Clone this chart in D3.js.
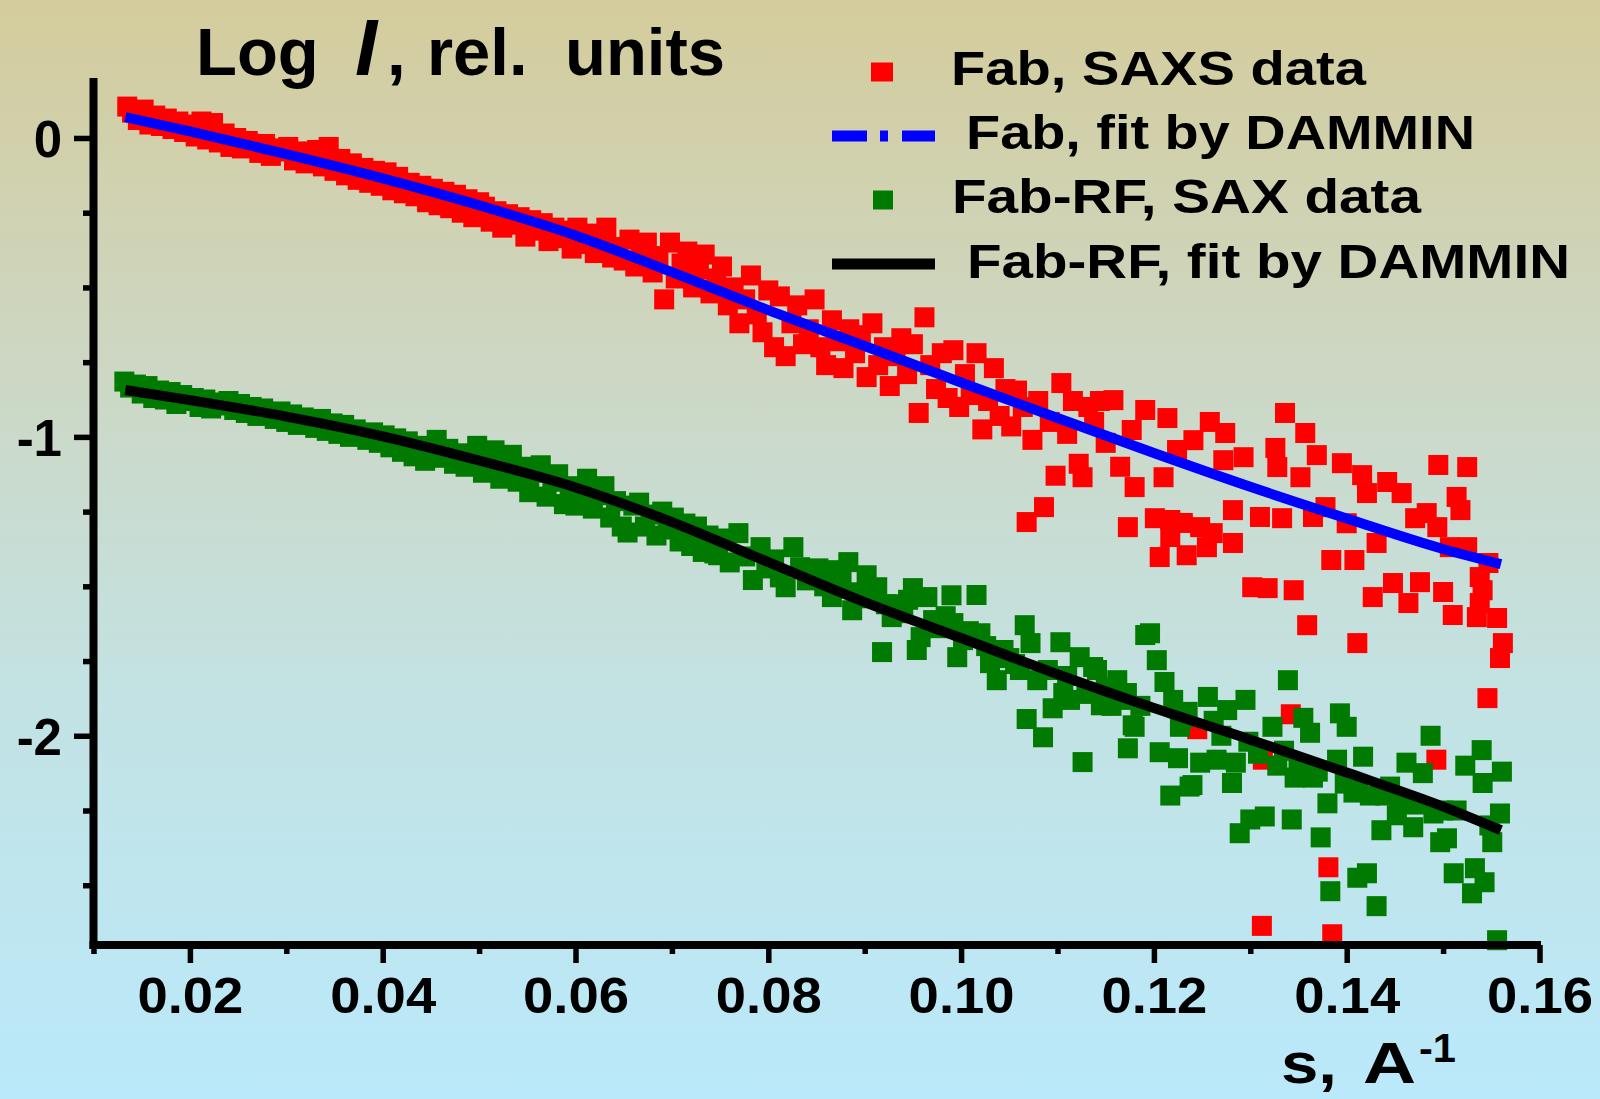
<!DOCTYPE html>
<html>
<head>
<meta charset="utf-8">
<script src="https://cdn.jsdelivr.net/npm/d3@7"></script>
<style>
  html, body { margin: 0; padding: 0; background: #ffffff; }
  svg { display: block; }
</style>
</head>
<body>
<script>
// ---- Data: log intensity vs scattering vector s (1/A) ----

// Fab, SAXS data: [s, log I]
const fabSaxs = [
  [0.0135,0.105],[0.0140,0.085],[0.0146,0.060],[0.0152,0.095],[0.0158,0.045],[0.0164,0.075],[0.0170,0.040],
  [0.0176,0.065],[0.0182,0.030],[0.0188,0.055],[0.0194,0.020],[0.0200,0.045],[0.0206,0.005],[0.0212,0.055],
  [0.0218,-0.005],[0.0224,0.050],[0.0230,-0.015],[0.0236,0.015],[0.0242,-0.030],[0.0248,0.000],[0.0254,-0.035],
  [0.0260,-0.010],[0.0266,-0.025],[0.0272,-0.050],[0.0278,-0.020],[0.0284,-0.060],[0.0290,-0.035],[0.0296,-0.045],
  [0.0302,-0.030],[0.0308,-0.075],[0.0314,-0.045],[0.0320,-0.085],[0.0326,-0.050],[0.0332,-0.040],[0.0338,-0.095],
  [0.0344,-0.030],[0.0350,-0.110],[0.0356,-0.070],[0.0362,-0.125],[0.0368,-0.085],[0.0374,-0.140],[0.0380,-0.100],
  [0.0386,-0.150],[0.0392,-0.110],[0.0398,-0.160],[0.0404,-0.115],[0.0410,-0.175],[0.0416,-0.130],[0.0422,-0.185],
  [0.0428,-0.150],[0.0434,-0.195],[0.0440,-0.160],[0.0446,-0.215],[0.0452,-0.170],[0.0458,-0.225],[0.0464,-0.180],
  [0.0470,-0.235],[0.0476,-0.190],[0.0482,-0.250],[0.0488,-0.205],[0.0494,-0.265],[0.0500,-0.215],[0.0506,-0.230],
  [0.0512,-0.280],[0.0518,-0.245],[0.0524,-0.300],[0.0530,-0.255],[0.0536,-0.290],[0.0542,-0.265],[0.0548,-0.330],
  [0.0554,-0.275],[0.0560,-0.310],[0.0566,-0.285],[0.0572,-0.345],[0.0578,-0.300],[0.0584,-0.335],[0.0590,-0.310],
  [0.0596,-0.370],[0.0602,-0.300],[0.0608,-0.355],[0.0614,-0.320],[0.0620,-0.385],[0.0626,-0.340],[0.0632,-0.300],
  [0.0638,-0.400],[0.0644,-0.365],[0.0650,-0.410],[0.0656,-0.340],[0.0662,-0.430],[0.0668,-0.380],[0.0674,-0.350],
  [0.0680,-0.450],[0.0686,-0.395],[0.0692,-0.540],[0.0698,-0.350],[0.0704,-0.470],[0.0710,-0.420],[0.0716,-0.380],
  [0.0722,-0.500],[0.0728,-0.440],[0.0734,-0.390],[0.0740,-0.520],[0.0746,-0.470],[0.0752,-0.430],[0.0758,-0.560],
  [0.0764,-0.500],[0.0770,-0.620],[0.0776,-0.540],[0.0782,-0.460],[0.0788,-0.590],[0.0794,-0.650],[0.0800,-0.510],
  [0.0806,-0.700],[0.0812,-0.530],[0.0818,-0.730],[0.0824,-0.620],[0.0830,-0.560],[0.0836,-0.690],[0.0842,-0.640],
  [0.0848,-0.540],[0.0854,-0.700],[0.0860,-0.760],[0.0866,-0.610],[0.0872,-0.680],[0.0878,-0.770],[0.0884,-0.640],
  [0.0890,-0.720],[0.0896,-0.660],[0.0902,-0.800],[0.0908,-0.620],[0.0914,-0.760],[0.0920,-0.700],[0.0926,-0.830],
  [0.0932,-0.730],[0.0938,-0.670],[0.0944,-0.790],[0.0950,-0.690],[0.0956,-0.920],[0.0962,-0.600],[0.0968,-0.760],
  [0.0974,-0.840],[0.0980,-0.720],[0.0986,-0.870],[0.0992,-0.710],[0.0998,-0.900],[0.1004,-0.790],[0.1010,-0.860],
  [0.1016,-0.720],[0.1022,-0.975],[0.1028,-0.880],[0.1034,-0.770],[0.1040,-0.930],[0.1046,-0.840],[0.1052,-0.965],
  [0.1058,-0.845],[0.1064,-0.900],[0.1068,-1.285],[0.1074,-1.010],[0.1080,-0.880],[0.1086,-1.235],[0.1092,-0.950],
  [0.1098,-1.130],[0.1104,-0.820],[0.1110,-0.990],[0.1116,-0.880],[0.1122,-1.090],[0.1126,-1.135],[0.1132,-0.900],
  [0.1138,-0.950],[0.1144,-0.880],[0.1150,-1.020],[0.1158,-0.877],[0.1165,-1.100],[0.1173,-1.302],[0.1177,-0.977],
  [0.1180,-1.168],[0.1191,-0.910],[0.1201,-1.272],[0.1206,-1.402],[0.1210,-1.135],[0.1214,-0.937],[0.1217,-1.278],
  [0.1217,-1.335],[0.1224,-1.044],[0.1230,-1.288],[0.1234,-1.396],[0.1241,-1.011],[0.1245,-1.978],[0.1248,-1.302],
  [0.1255,-1.369],[0.1258,-0.950],[0.1261,-1.322],[0.1272,-1.078],[0.1274,-0.987],[0.1282,-1.355],[0.1282,-1.245],
  [0.1293,-1.068],[0.1302,-1.503],[0.1310,-1.268],[0.1312,-2.636],[0.1313,-2.080],[0.1318,-1.506],[0.1326,-1.037],
  [0.1328,-1.101],[0.1333,-1.272],[0.1336,-0.920],[0.1342,-1.928],[0.1345,-1.513],[0.1352,-1.135],[0.1357,-0.987],
  [0.1359,-1.630],[0.1365,-1.268],[0.1369,-1.061],[0.1378,-1.235],[0.1381,-2.440],[0.1384,-1.412],[0.1385,-2.664],
  [0.1395,-1.088],[0.1400,-1.289],[0.1408,-1.412],[0.1411,-1.690],[0.1416,-1.128],[0.1421,-1.188],[0.1427,-1.536],
  [0.1431,-1.355],[0.1442,-1.151],[0.1448,-1.489],[0.1457,-1.188],[0.1464,-1.556],[0.1471,-1.272],[0.1476,-1.486],
  [0.1483,-1.255],[0.1493,-2.080],[0.1494,-1.302],[0.1495,-1.094],[0.1500,-1.519],[0.1507,-1.369],[0.1510,-1.596],
  [0.1514,-1.201],[0.1518,-1.245],[0.1525,-1.101],[0.1525,-1.369],[0.1535,-1.603],[0.1538,-1.469],[0.1538,-1.556],
  [0.1541,-1.513],[0.1546,-1.874],[0.1547,-1.422],[0.1556,-1.606],[0.1559,-1.740],[0.1562,-1.690]
];

// Fab-RF, SAX data: [s, log I]
const fabRfSax = [
  [0.0132,-0.815],[0.0138,-0.835],[0.0144,-0.825],[0.0150,-0.855],[0.0156,-0.830],[0.0162,-0.870],[0.0168,-0.845],
  [0.0174,-0.875],[0.0180,-0.850],[0.0186,-0.890],[0.0192,-0.860],[0.0198,-0.880],[0.0204,-0.870],[0.0210,-0.900],
  [0.0216,-0.875],[0.0222,-0.905],[0.0228,-0.885],[0.0234,-0.895],[0.0240,-0.880],[0.0246,-0.910],[0.0252,-0.890],
  [0.0258,-0.920],[0.0264,-0.900],[0.0270,-0.930],[0.0276,-0.905],[0.0282,-0.920],[0.0288,-0.940],[0.0294,-0.915],
  [0.0300,-0.950],[0.0306,-0.925],[0.0312,-0.960],[0.0318,-0.935],[0.0324,-0.945],[0.0330,-0.970],[0.0336,-0.940],
  [0.0342,-0.980],[0.0348,-0.955],[0.0354,-0.990],[0.0360,-0.960],[0.0366,-1.000],[0.0372,-0.975],[0.0378,-0.990],
  [0.0384,-1.010],[0.0390,-0.985],[0.0396,-1.020],[0.0402,-0.995],[0.0408,-1.035],[0.0414,-1.005],[0.0420,-1.050],
  [0.0426,-1.015],[0.0432,-1.065],[0.0438,-1.030],[0.0444,-1.080],[0.0450,-1.035],[0.0456,-1.010],[0.0462,-1.070],
  [0.0468,-1.040],[0.0474,-1.090],[0.0480,-1.055],[0.0486,-1.100],[0.0492,-1.060],[0.0498,-1.030],[0.0504,-1.120],
  [0.0510,-1.075],[0.0516,-1.045],[0.0522,-1.140],[0.0528,-1.095],[0.0534,-1.060],[0.0540,-1.150],[0.0546,-1.100],
  [0.0552,-1.185],[0.0558,-1.120],[0.0564,-1.095],[0.0570,-1.200],[0.0576,-1.150],[0.0582,-1.125],[0.0588,-1.225],
  [0.0594,-1.165],[0.0600,-1.230],[0.0606,-1.175],[0.0612,-1.140],[0.0618,-1.240],[0.0624,-1.195],[0.0630,-1.165],
  [0.0636,-1.270],[0.0642,-1.215],[0.0648,-1.300],[0.0654,-1.320],[0.0660,-1.230],[0.0666,-1.220],[0.0672,-1.300],
  [0.0678,-1.260],[0.0684,-1.330],[0.0690,-1.250],[0.0696,-1.310],[0.0702,-1.270],[0.0708,-1.350],[0.0714,-1.290],
  [0.0720,-1.365],[0.0726,-1.300],[0.0732,-1.385],[0.0738,-1.330],[0.0744,-1.390],[0.0748,-1.396],[0.0754,-1.340],
  [0.0760,-1.420],[0.0769,-1.322],[0.0776,-1.400],[0.0784,-1.479],[0.0792,-1.369],[0.0798,-1.440],[0.0806,-1.410],
  [0.0812,-1.470],[0.0818,-1.503],[0.0826,-1.369],[0.0833,-1.436],[0.0840,-1.480],[0.0846,-1.479],[0.0852,-1.440],
  [0.0858,-1.500],[0.0866,-1.536],[0.0870,-1.446],[0.0876,-1.480],[0.0883,-1.419],[0.0887,-1.580],[0.0893,-1.520],
  [0.0902,-1.463],[0.0907,-1.540],[0.0913,-1.503],[0.0918,-1.720],[0.0922,-1.560],[0.0928,-1.603],[0.0934,-1.560],
  [0.0940,-1.590],[0.0945,-1.545],[0.0950,-1.506],[0.0954,-1.713],[0.0958,-1.670],[0.0965,-1.536],[0.0971,-1.613],
  [0.0978,-1.640],[0.0984,-1.600],[0.0990,-1.530],[0.0992,-1.623],[0.0996,-1.737],[0.1002,-1.680],[0.1008,-1.650],
  [0.1016,-1.529],[0.1020,-1.657],[0.1026,-1.700],[0.1030,-1.757],[0.1037,-1.814],[0.1044,-1.713],[0.1050,-1.740],
  [0.1056,-1.760],[0.1061,-1.780],[0.1066,-1.630],[0.1068,-1.944],[0.1072,-1.690],[0.1079,-1.814],[0.1085,-2.005],
  [0.1090,-1.780],[0.1095,-1.908],[0.1103,-1.687],[0.1106,-1.857],[0.1110,-1.800],[0.1113,-1.880],[0.1123,-1.737],
  [0.1126,-2.088],[0.1130,-1.860],[0.1137,-1.770],[0.1141,-1.780],[0.1145,-1.898],[0.1150,-1.840],[0.1156,-1.900],
  [0.1162,-1.814],[0.1166,-1.880],[0.1172,-1.857],[0.1173,-2.042],[0.1178,-1.965],[0.1180,-1.970],[0.1186,-1.900],
  [0.1191,-1.663],[0.1196,-1.657],[0.1203,-1.747],[0.1206,-2.055],[0.1211,-1.820],[0.1217,-2.200],[0.1220,-1.880],
  [0.1225,-2.075],[0.1227,-1.970],[0.1230,-1.940],[0.1235,-1.920],[0.1237,-2.170],[0.1240,-2.165],[0.1248,-2.090],
  [0.1256,-1.870],[0.1262,-1.950],[0.1265,-2.080],[0.1270,-2.000],[0.1276,-1.914],[0.1281,-2.158],[0.1285,-2.090],
  [0.1289,-2.326],[0.1295,-1.880],[0.1298,-2.020],[0.1300,-2.280],[0.1308,-2.060],[0.1315,-2.270],[0.1323,-1.970],
  [0.1328,-2.100],[0.1335,-2.050],[0.1339,-1.814],[0.1343,-2.280],[0.1346,-2.140],[0.1350,-2.100],[0.1355,-1.940],
  [0.1362,-1.990],[0.1365,-2.140],[0.1370,-2.120],[0.1373,-2.340],[0.1380,-2.226],[0.1383,-2.520],[0.1390,-2.080],
  [0.1393,-1.925],[0.1398,-2.160],[0.1400,-1.970],[0.1407,-2.190],[0.1411,-2.475],[0.1412,-2.180],[0.1417,-2.070],
  [0.1421,-2.460],[0.1424,-2.200],[0.1431,-2.570],[0.1436,-2.316],[0.1440,-2.200],[0.1445,-2.170],[0.1452,-2.266],
  [0.1455,-2.220],[0.1462,-2.090],[0.1469,-2.306],[0.1470,-2.230],[0.1479,-2.125],[0.1487,-2.000],[0.1490,-2.260],
  [0.1497,-2.356],[0.1500,-2.250],[0.1504,-2.343],[0.1511,-2.460],[0.1514,-2.250],[0.1523,-2.100],[0.1530,-2.527],
  [0.1533,-2.443],[0.1540,-2.048],[0.1541,-2.158],[0.1543,-2.490],[0.1548,-2.300],[0.1551,-2.356],[0.1556,-2.684],
  [0.1559,-2.260],[0.1561,-2.120]
];

// DAMMIN model curves, sampled along s
const fitS      = [0.0133, 0.02, 0.03, 0.04, 0.05, 0.06, 0.07, 0.08, 0.09, 0.10, 0.11, 0.12, 0.13, 0.14, 0.15, 0.156];
const fabFit    = [0.070, 0.022, -0.054, -0.135, -0.225, -0.326, -0.449, -0.576, -0.696, -0.818, -0.937, -1.054, -1.167, -1.273, -1.375, -1.426];
const fabRfFit  = [-0.843, -0.877, -0.932, -0.998, -1.079, -1.169, -1.285, -1.419, -1.553, -1.673, -1.794, -1.907, -2.013, -2.123, -2.237, -2.316];

// Axis ticks
const xMajor = [0.02, 0.04, 0.06, 0.08, 0.10, 0.12, 0.14, 0.16];
const xTickLabels = ['0.02', '0.04', '0.06', '0.08', '0.10', '0.12', '0.14', '0.16'];
const xMinor = [0.01, 0.03, 0.05, 0.07, 0.09, 0.11, 0.13, 0.15];
const yMajor = [0, -1, -2];
const yTickLabels = ['0', '-1', '-2'];
const yMinor = [-0.25, -0.5, -0.75, -1.25, -1.5, -1.75, -2.25, -2.5];

const legendLabels = ['Fab, SAXS data', 'Fab, fit by DAMMIN', 'Fab-RF, SAX data', 'Fab-RF, fit by DAMMIN'];

// ---- Drawing ----
const W = 1600, H = 1099;
const FONT = '"Liberation Sans", Arial, Helvetica, sans-serif';
const RED = '#ff0000', GREEN = '#007a00', BLUE = '#0000ff', BLACK = '#000000';

const svg = d3.select('body').append('svg')
  .attr('width', W).attr('height', H)
  .style('font-family', FONT).style('font-weight', 'bold');

// background: warm khaki at the top fading into sky blue
const defs = svg.append('defs');
const grad = defs.append('linearGradient').attr('id', 'bgGrad')
  .attr('x1', 0).attr('y1', 0).attr('x2', 0).attr('y2', 1);
[[0, '#d4cc9c'], [0.33, '#cdd7c3'], [0.62, '#c3e2e2'], [1, '#bae9fb']]
  .forEach(([o, c]) => grad.append('stop').attr('offset', o).attr('stop-color', c));
svg.append('rect').attr('width', W).attr('height', H).attr('fill', 'url(#bgGrad)');

const x = d3.scaleLinear().domain([0.01, 0.16]).range([93.5, 1539.5]);
const y = d3.scaleLinear().domain([-2.7, 0.2]).range([945, 78.2]);

// scatter markers
const MS = 20;
function squares(data, color) {
  svg.append('g').selectAll('rect').data(data).join('rect')
    .attr('x', d => x(d[0]) - MS / 2)
    .attr('y', d => y(d[1]) - MS / 2)
    .attr('width', MS).attr('height', MS)
    .attr('fill', color);
}
squares(fabSaxs, RED);
squares(fabRfSax, GREEN);

// model curves
const line = d3.line().x(d => x(d[0])).y(d => y(d[1])).curve(d3.curveMonotoneX);
svg.append('path').datum(d3.zip(fitS, fabFit)).attr('d', line)
  .attr('fill', 'none').attr('stroke', BLUE).attr('stroke-width', 10);
svg.append('path').datum(d3.zip(fitS, fabRfFit)).attr('d', line)
  .attr('fill', 'none').attr('stroke', BLACK).attr('stroke-width', 10);

// axes
function styleAxis(g, fontSize) {
  g.select('.domain').remove();
  g.selectAll('.tick line').attr('stroke', BLACK).attr('stroke-width', 5.5);
  g.selectAll('.tick text').attr('fill', BLACK)
    .style('font-size', fontSize + 'px').style('font-family', FONT).style('font-weight', 'bold');
}

const gy = svg.append('g').attr('transform', 'translate(93.5,0)')
  .call(d3.axisLeft(y).tickValues(yMajor).tickSize(19.5).tickSizeOuter(0).tickPadding(12)
    .tickFormat((d, i) => yTickLabels[i]));
styleAxis(gy, 51);
gy.selectAll('.tick text').attr('dy', '0.36em');

const gyMinor = svg.append('g').attr('transform', 'translate(93.5,0)')
  .call(d3.axisLeft(y).tickValues(yMinor).tickSize(10.5).tickSizeOuter(0).tickFormat(''));
styleAxis(gyMinor, 10);

const gx = svg.append('g').attr('transform', 'translate(0,945)')
  .call(d3.axisBottom(x).tickValues(xMajor).tickSize(18).tickSizeOuter(0).tickPadding(14.5)
    .tickFormat((d, i) => xTickLabels[i]));
styleAxis(gx, 50);
gx.selectAll('.tick text').attr('textLength', 106).attr('lengthAdjust', 'spacingAndGlyphs');

const gxMinor = svg.append('g').attr('transform', 'translate(0,945)')
  .call(d3.axisBottom(x).tickValues(xMinor).tickSize(9).tickSizeOuter(0).tickFormat(''));
styleAxis(gxMinor, 10);

// axis lines
svg.append('line').attr('x1', 93.5).attr('x2', 93.5).attr('y1', 78).attr('y2', 949)
  .attr('stroke', BLACK).attr('stroke-width', 8);
svg.append('line').attr('x1', 89.5).attr('x2', 1541).attr('y1', 945).attr('y2', 945)
  .attr('stroke', BLACK).attr('stroke-width', 8);

// y-axis title
const title = svg.append('text').attr('y', 75).attr('fill', BLACK).style('font-size', '67px');
title.append('tspan').attr('x', 196).text('Log');
title.append('tspan').attr('x', 355).style('font-style', 'italic').style('font-size', '80px').text('I');
title.append('tspan').attr('x', 387).text(',');
title.append('tspan').attr('x', 427).text('rel.');
title.append('tspan').attr('x', 565).text('units');

// x-axis title
svg.append('text').attr('x', 1281).attr('y', 1083).style('font-size', '58px')
  .attr('textLength', 56).attr('lengthAdjust', 'spacingAndGlyphs').text('s,');
svg.append('text').attr('x', 1363).attr('y', 1083).style('font-size', '58px')
  .attr('textLength', 53).attr('lengthAdjust', 'spacingAndGlyphs').text('A');
svg.append('text').attr('x', 1419).attr('y', 1062).style('font-size', '40px')
  .attr('textLength', 37).attr('lengthAdjust', 'spacingAndGlyphs').text('-1');

// legend
const legend = svg.append('g');
const legText = [
  { x: 951, y: 85, w: 415 },
  { x: 966, y: 149, w: 509 },
  { x: 952, y: 213, w: 469 },
  { x: 967, y: 278, w: 603 }
];
legendLabels.forEach((t, i) => {
  legend.append('text').attr('x', legText[i].x).attr('y', legText[i].y)
    .style('font-size', '49px').attr('fill', BLACK)
    .attr('textLength', legText[i].w).attr('lengthAdjust', 'spacingAndGlyphs')
    .text(t);
});
legend.append('rect').attr('x', 871).attr('y', 62.5).attr('width', 22).attr('height', 19).attr('fill', RED);
legend.append('line').attr('x1', 832).attr('x2', 935).attr('y1', 136).attr('y2', 136)
  .attr('stroke', BLUE).attr('stroke-width', 11).attr('stroke-dasharray', '35 13 8 14');
legend.append('rect').attr('x', 873).attr('y', 190.5).attr('width', 20).attr('height', 19).attr('fill', GREEN);
legend.append('line').attr('x1', 832).attr('x2', 935).attr('y1', 264).attr('y2', 264)
  .attr('stroke', BLACK).attr('stroke-width', 11);
</script>
</body>
</html>
